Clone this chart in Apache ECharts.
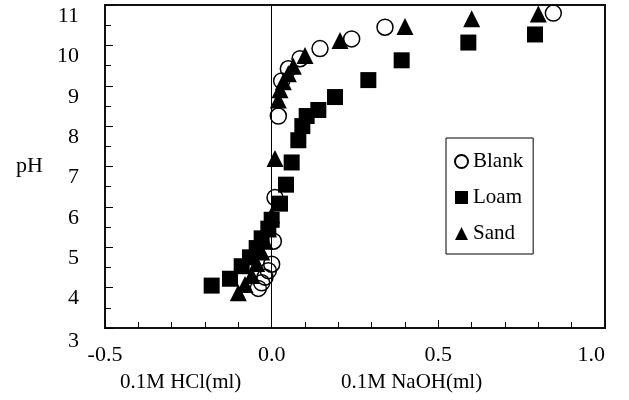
<!DOCTYPE html>
<html>
<head>
<meta charset="utf-8">
<script src="https://cdn.jsdelivr.net/npm/echarts@6/dist/echarts.min.js"></script>
<style>
  html, body { margin: 0; padding: 0; background: #fff; }
  #chart { width: 629px; height: 400px; }
</style>
</head>
<body>
<div id="chart"></div>
<script>
// Titration curves: added volume (ml) vs. pH. Negative volumes = 0.1M HCl, positive = 0.1M NaOH.
const seriesNames = ['Blank', 'Loam', 'Sand'];

const blankData = [
  [-0.04, 3.98], [-0.03, 4.12], [-0.02, 4.26], [-0.01, 4.42], [0.0, 4.58],
  [0.005, 5.15], [0.01, 6.23], [0.02, 8.25], [0.03, 9.12], [0.05, 9.42],
  [0.085, 9.67], [0.145, 9.92], [0.24, 10.16], [0.34, 10.45], [0.845, 10.8]
];

const loamData = [
  [-0.18, 4.05], [-0.125, 4.22], [-0.09, 4.53], [-0.065, 4.75], [-0.045, 4.98],
  [-0.03, 5.22], [-0.01, 5.46], [0.0, 5.68], [0.025, 6.08], [0.043, 6.55],
  [0.06, 7.1], [0.08, 7.65], [0.092, 8.0], [0.105, 8.25], [0.14, 8.4],
  [0.19, 8.72], [0.29, 9.14], [0.39, 9.63], [0.59, 10.07], [0.79, 10.27]
];

const sandData = [
  [-0.1, 3.87], [-0.08, 4.08], [-0.06, 4.3], [-0.045, 4.6], [-0.03, 4.88],
  [-0.02, 5.15], [-0.01, 5.45], [0.0, 5.8], [0.01, 7.2], [0.02, 8.65],
  [0.025, 8.9], [0.035, 9.1], [0.05, 9.3], [0.065, 9.48], [0.1, 9.75],
  [0.205, 10.12], [0.4, 10.47], [0.6, 10.66], [0.8, 10.78]
];

const xMin = -0.5, xMax = 1.0, xStep = 0.5;
const yMin = 3, yMax = 11, yStep = 1;
const xTitles = ['0.1M HCl(ml)', '0.1M NaOH(ml)'];
const yTitle = 'pH';

const FONT = '"Liberation Serif", "Times New Roman", serif';

const chart = echarts.init(document.getElementById('chart'), null, { renderer: 'canvas' });

chart.setOption({
  backgroundColor: '#fff',
  animation: false,
  grid: {
    left: 105, right: 24, top: 5, bottom: 72,
    show: true, borderColor: '#111', borderWidth: 2, backgroundColor: 'transparent'
  },
  legend: {
    data: seriesNames,
    orient: 'vertical',
    left: 446, top: 138,
    padding: [13, 10, 10, 8],
    itemGap: 15,
    itemWidth: 13, itemHeight: 13,
    borderColor: '#000', borderWidth: 1,
    backgroundColor: '#fff',
    textStyle: { fontFamily: FONT, fontSize: 21, color: '#000' }
  },
  xAxis: {
    type: 'value',
    min: xMin, max: xMax, interval: xStep,
    axisLine: { show: true, onZero: false, lineStyle: { color: '#111', width: 2 } },
    axisTick: { show: true, inside: true, length: 8, lineStyle: { color: '#000', width: 1 } },
    minorTick: { show: true, splitNumber: 5, length: 6, lineStyle: { color: '#000', width: 1 } },
    splitLine: { show: false },
    axisLabel: {
      fontFamily: FONT, fontSize: 22, color: '#000', margin: 16,
      formatter: v => v.toFixed(1),
      alignMaxLabel: 'right'
    }
  },
  yAxis: {
    type: 'value',
    min: yMin, max: yMax, interval: yStep,
    name: yTitle,
    nameLocation: 'middle',
    nameRotate: 0,
    nameGap: 62,
    nameTextStyle: { fontFamily: FONT, fontSize: 22, color: '#000' },
    axisLine: { show: true, onZero: false, lineStyle: { color: '#111', width: 2 } },
    axisTick: { show: true, inside: true, length: 8, lineStyle: { color: '#000', width: 1 } },
    minorTick: { show: true, splitNumber: 2, length: 6, lineStyle: { color: '#000', width: 1 } },
    splitLine: { show: false },
    axisLabel: {
      fontFamily: FONT, fontSize: 22, color: '#000', margin: 26,
      verticalAlign: 'top',
      formatter: v => (v === yMin ? '{low|' + v + '}' : String(v)),
      rich: { low: { fontFamily: FONT, fontSize: 22, color: '#000', padding: [2, 0, 0, 0] } }
    }
  },
  graphic: [
    { type: 'text', left: 120, top: 372, style: { text: xTitles[0], font: '21px ' + FONT, fill: '#000' } },
    { type: 'text', left: 341, top: 372, style: { text: xTitles[1], font: '21px ' + FONT, fill: '#000' } }
  ],
  series: [
    {
      name: seriesNames[0], type: 'scatter', data: blankData,
      symbol: 'circle', symbolSize: 16,
      itemStyle: { color: 'rgba(255,255,255,0)', borderColor: '#000', borderWidth: 1.5, opacity: 1 },
      markLine: {
        silent: true, symbol: ['none', 'none'], label: { show: false },
        lineStyle: { color: '#000', width: 1, type: 'solid' },
        data: [{ xAxis: 0 }]
      },
      z: 2
    },
    {
      name: seriesNames[1], type: 'scatter', data: loamData,
      symbol: 'rect', symbolSize: 16,
      itemStyle: { color: '#000', opacity: 1 },
      z: 3
    },
    {
      name: seriesNames[2], type: 'scatter', data: sandData,
      symbol: 'triangle', symbolSize: 17,
      itemStyle: { color: '#000', opacity: 1 },
      z: 4
    }
  ]
});
</script>
</body>
</html>
